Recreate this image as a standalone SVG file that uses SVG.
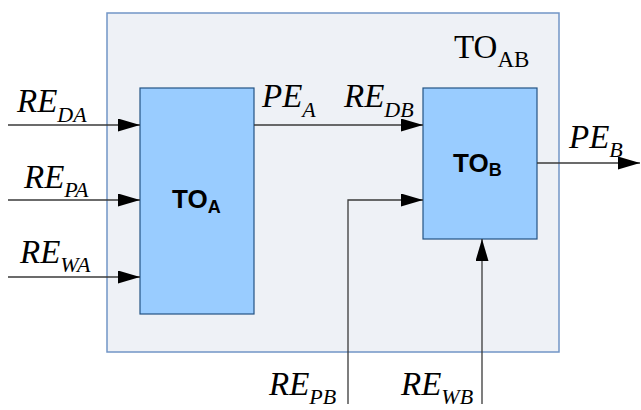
<svg xmlns="http://www.w3.org/2000/svg" width="641" height="410" viewBox="0 0 641 410">
  <style>
    .outer { fill: #eef1f6; stroke: #7295c6; stroke-width: 1.5; }
    .block { fill: #99ccff; stroke: #235384; stroke-width: 1.2; }
    .wire { fill: none; stroke: #3a3a3a; stroke-width: 1.3; }
    .sig { font-family: "Liberation Serif", "Times New Roman", serif; font-style: italic; fill: #000; }
    .title { font-family: "Liberation Serif", "Times New Roman", serif; fill: #000; }
    .lbl { font-family: "Liberation Sans", Arial, sans-serif; font-weight: bold; fill: #000; }
  </style>
  <defs>
    <marker id="arrow" markerUnits="userSpaceOnUse" markerWidth="22" markerHeight="13" refX="22" refY="6.5" orient="auto">
      <path d="M0,0 L22,6.5 L0,13 Z" fill="#000"/>
    </marker>
  </defs>

  <rect width="641" height="410" fill="#fff"/>

  <!-- enclosing system TO_AB -->
  <g id="to-ab">
    <rect class="outer" x="107" y="13" width="452" height="339"/>
    <text class="title" x="454" y="58" font-size="33">TO<tspan font-size="23" dy="9">AB</tspan></text>
  </g>

  <!-- block TO_A -->
  <g id="to-a">
    <rect class="block" x="140" y="88" width="114" height="226"/>
    <text class="lbl" x="172" y="208" font-size="26">TO<tspan font-size="18" dy="5">A</tspan></text>
  </g>

  <!-- block TO_B -->
  <g id="to-b">
    <rect class="block" x="423" y="88" width="114" height="151"/>
    <text class="lbl" x="453" y="172" font-size="26">TO<tspan font-size="18" dy="4">B</tspan></text>
  </g>

  <!-- signal lines -->
  <g id="connectors">
    <line class="wire" x1="8" y1="125" x2="140" y2="125" marker-end="url(#arrow)"/>
    <line class="wire" x1="8" y1="200" x2="140" y2="200" marker-end="url(#arrow)"/>
    <line class="wire" x1="8" y1="277" x2="140" y2="277" marker-end="url(#arrow)"/>
    <line class="wire" x1="254" y1="125" x2="423" y2="125" marker-end="url(#arrow)"/>
    <line class="wire" x1="537" y1="163" x2="640" y2="163" marker-end="url(#arrow)"/>
    <polyline class="wire" points="348,404 348,200 423,200" marker-end="url(#arrow)"/>
    <line class="wire" x1="482" y1="404" x2="482" y2="239" marker-end="url(#arrow)"/>
  </g>

  <!-- signal labels -->
  <g id="labels">
    <text class="sig" x="17" y="112" font-size="33">RE<tspan font-size="22" dy="10">DA</tspan></text>
    <text class="sig" x="24" y="188" font-size="33">RE<tspan font-size="22" dy="9">PA</tspan></text>
    <text class="sig" x="20" y="263" font-size="33">RE<tspan font-size="22" dy="9">WA</tspan></text>
    <text class="sig" x="262" y="107" font-size="33">PE<tspan font-size="22" dy="10">A</tspan></text>
    <text class="sig" x="344" y="107" font-size="33">RE<tspan font-size="22" dy="10">DB</tspan></text>
    <text class="sig" x="569" y="148" font-size="33">PE<tspan font-size="22" dy="9">B</tspan></text>
    <text class="sig" x="269" y="395" font-size="33">RE<tspan font-size="22" dy="9">PB</tspan></text>
    <text class="sig" x="401" y="395" font-size="33">RE<tspan font-size="22" dy="9">WB</tspan></text>
  </g>
</svg>
